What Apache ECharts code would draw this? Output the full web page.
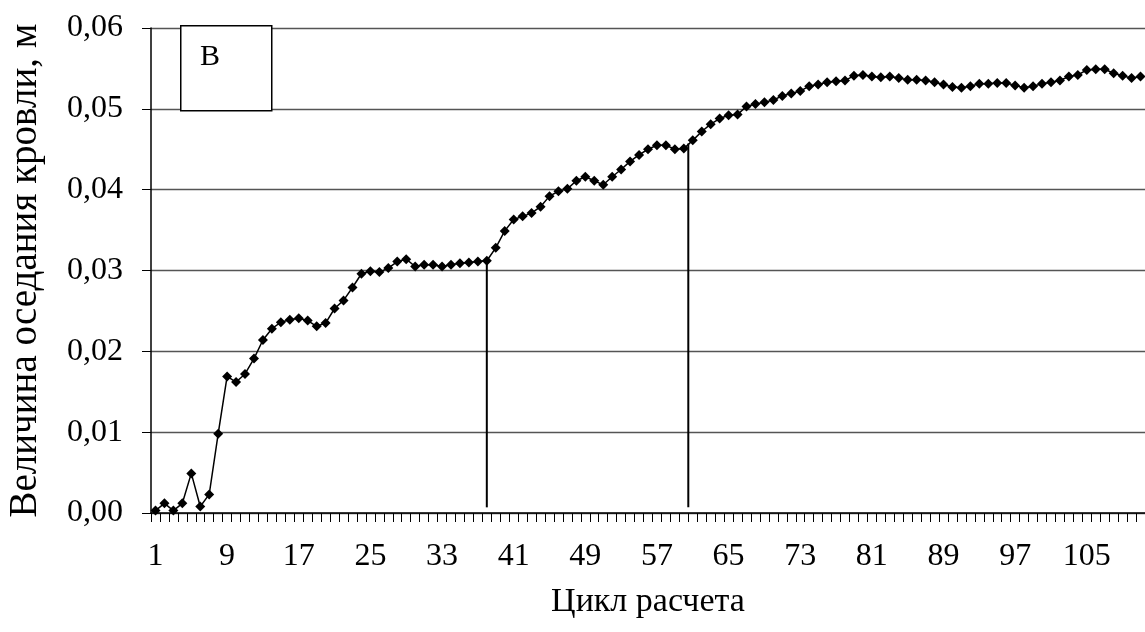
<!DOCTYPE html>
<html>
<head>
<meta charset="utf-8">
<script src="https://cdn.jsdelivr.net/npm/echarts@6/dist/echarts.min.js"></script>
<style>
html,body{margin:0;padding:0;background:#fff;}
#chart{width:1145px;height:632px;}
</style>
</head>
<body>
<div id="chart"></div>
<script>
// Categories: calculation cycle 1..111
var cycles = [];
for (var i = 1; i <= 111; i++) cycles.push(String(i));

// Roof subsidence, m
var subsidence = [
  0.0003,0.0012,0.0003,0.0012,0.0049,0.0008,0.0023,0.0098,0.0169,0.0162,
  0.0172,0.0191,0.0214,0.0228,0.0236,0.0239,0.0241,0.0238,0.0231,0.0235,
  0.0253,0.0263,0.0279,0.0296,0.0299,0.0298,0.0303,0.0311,0.0314,0.0305,
  0.0307,0.0307,0.0305,0.0307,0.0309,0.0310,0.0311,0.0312,0.0328,0.0349,
  0.0363,0.0367,0.0371,0.0379,0.0392,0.0398,0.0401,0.0411,0.0416,0.0411,
  0.0406,0.0416,0.0425,0.0435,0.0443,0.0450,0.0455,0.0455,0.0450,0.0451,
  0.0461,0.0472,0.0481,0.0488,0.0492,0.0493,0.0503,0.0506,0.0508,0.0511,
  0.0516,0.0519,0.0522,0.0528,0.0530,0.0533,0.0534,0.0535,0.0541,0.0542,
  0.0540,0.0539,0.0540,0.0538,0.0536,0.0536,0.0535,0.0533,0.0530,0.0527,
  0.0526,0.0528,0.0531,0.0531,0.0532,0.0532,0.0529,0.0526,0.0528,0.0531,
  0.0533,0.0535,0.0540,0.0542,0.0548,0.0549,0.0549,0.0544,0.0541,0.0538,
  0.0540
];

// Vertical divider lines (position in cycle units, top value, bottom value)
var dividerX = [38, 60.5];
var dividerTop = [0.0312, 0.0457];
var dividerBottom = 0.0007;

var panelLabel = 'В';
var yTitle = 'Величина оседания кровли, м';
var xTitle = 'Цикл расчета';

var FONT = '"Liberation Serif", "Times New Roman", serif';

var dividerSeries = dividerX.map(function (x, k) {
  return {
    type: 'line',
    xAxisIndex: 1,
    yAxisIndex: 0,
    data: [[x, dividerBottom], [x, dividerTop[k]]],
    symbol: 'none',
    lineStyle: { color: '#000', width: 2 },
    silent: true,
    z: 1
  };
});

var chart = echarts.init(document.getElementById('chart'));
chart.setOption({
  animation: false,
  backgroundColor: '#fff',
  grid: { left: 151, right: 0, top: 28, bottom: 119, containLabel: false, outerBoundsMode: 'none' },
  xAxis: [{
    type: 'category',
    data: cycles,
    boundaryGap: true,
    name: xTitle,
    nameLocation: 'middle',
    nameGap: 72,
    nameTextStyle: { fontFamily: FONT, fontSize: 34, color: '#000' },
    axisLine: { lineStyle: { color: '#000', width: 1.5 } },
    axisTick: { show: true, interval: 0, length: 9, lineStyle: { color: '#000', width: 1 } },
    axisLabel: { interval: 7, margin: 28, fontFamily: FONT, fontSize: 32, color: '#000' },
    splitLine: { show: false }
  }, {
    type: 'value',
    min: 0.5,
    max: 111.5,
    show: false
  }],
  yAxis: {
    type: 'value',
    min: 0,
    max: 0.06,
    interval: 0.01,
    name: yTitle,
    nameLocation: 'middle',
    nameGap: 106,
    nameTextStyle: { fontFamily: FONT, fontSize: 39, color: '#000' },
    axisLine: { show: true, lineStyle: { color: '#000', width: 1.5 } },
    axisTick: { show: true, length: 9, lineStyle: { color: '#000', width: 1 } },
    axisLabel: {
      margin: 28, fontFamily: FONT, fontSize: 32, color: '#000',
      formatter: function (v) { return v.toFixed(2).replace('.', ','); }
    },
    splitLine: { show: true, lineStyle: { color: '#555', width: 1.3 } }
  },
  graphic: [{
    type: 'rect',
    left: 180, top: 25,
    shape: { width: 91, height: 85 },
    style: { fill: '#fff', stroke: '#000', lineWidth: 1.5 },
    z: 100
  }, {
    type: 'text',
    left: 200, top: 42,
    style: { text: panelLabel, font: '30px ' + FONT, fill: '#000' },
    z: 101
  }],
  series: [{
    type: 'line',
    data: subsidence,
    symbol: 'diamond',
    symbolSize: [10, 10],
    showAllSymbol: true,
    itemStyle: { color: '#000' },
    lineStyle: { color: '#000', width: 1.5 },
    z: 3
  }].concat(dividerSeries)
});
</script>
</body>
</html>
